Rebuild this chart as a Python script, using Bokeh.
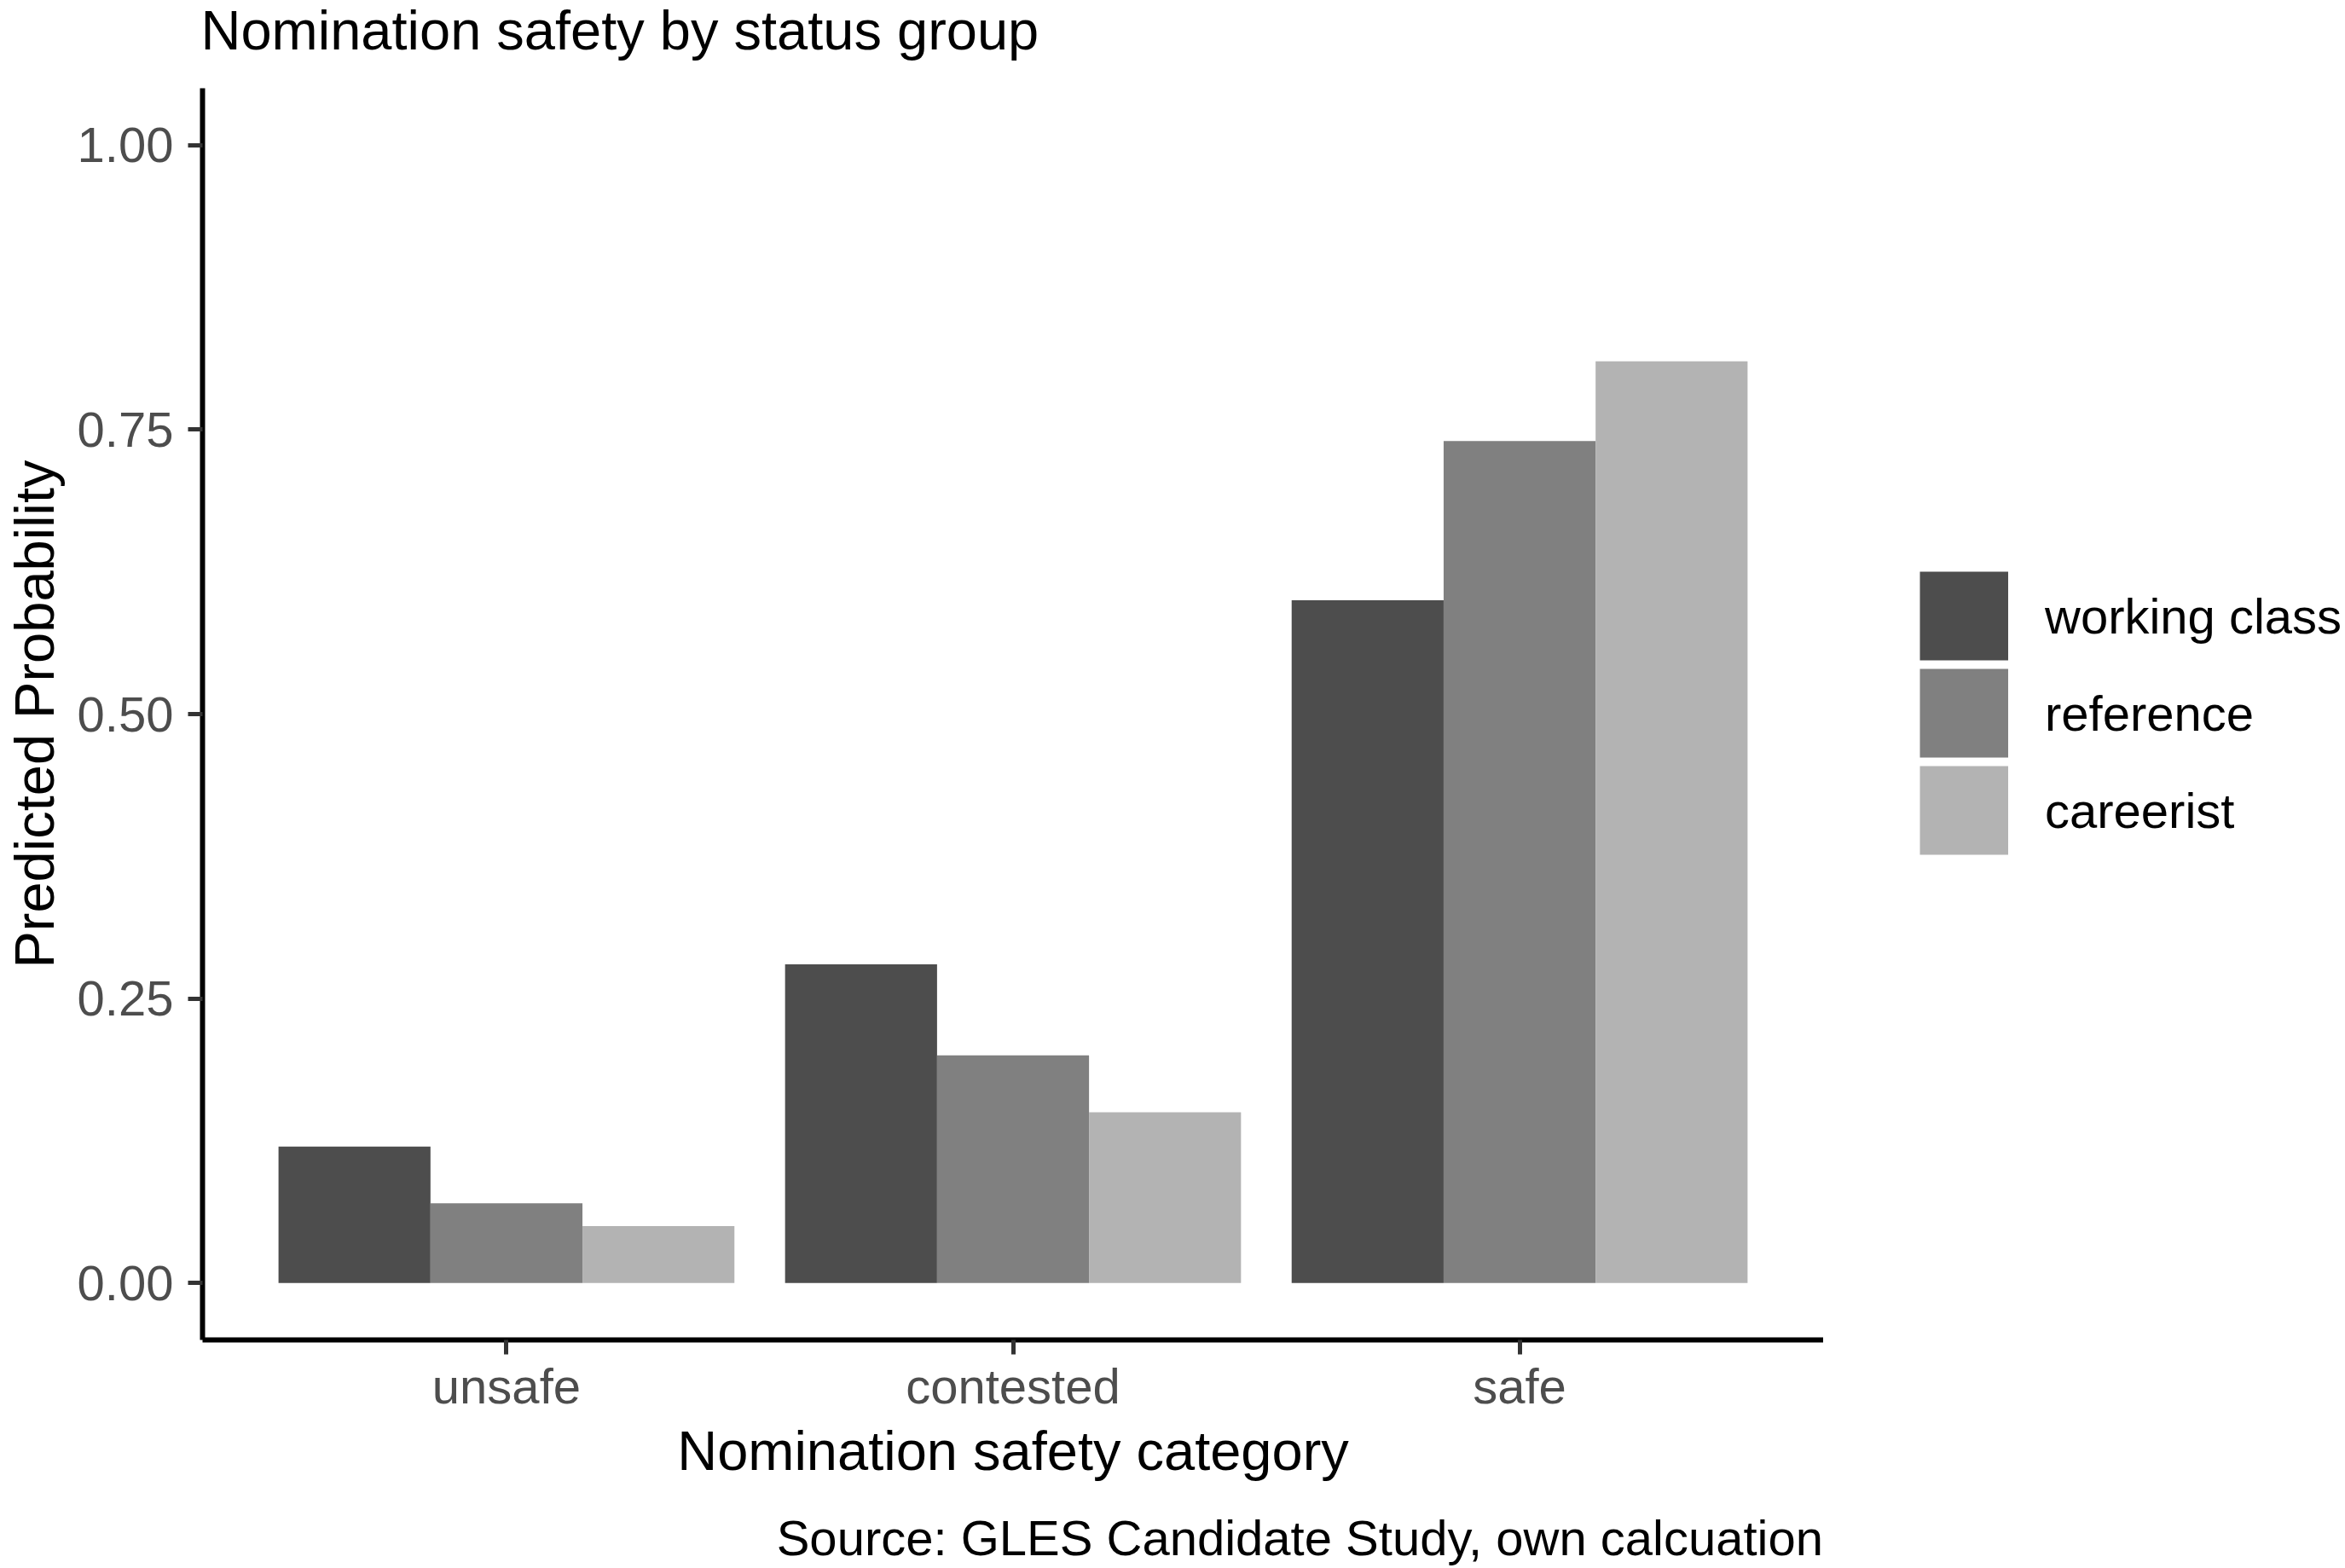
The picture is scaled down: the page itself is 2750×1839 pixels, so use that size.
from bokeh.plotting import figure
from bokeh.layouts import row, column
from bokeh.models import (FactorRange, Range1d, ColumnDataSource, FixedTicker,
                          Legend, LegendItem, Label, NumeralTickFormatter)
from bokeh.transform import dodge
from bokeh.embed import file_html
from bokeh.resources import INLINE

# ---- data ----
categories = ["unsafe", "contested", "safe"]
groups = ["working class", "reference", "careerist"]
working_class = [0.12, 0.28, 0.60]
reference = [0.07, 0.20, 0.74]
careerist = [0.05, 0.15, 0.81]
y_ticks = [0.0, 0.25, 0.5, 0.75, 1.0]
y_tick_labels = ["0.00", "0.25", "0.50", "0.75", "1.00"]
colors = ["#4D4D4D", "#808080", "#B3B3B3"]

title_text = "Nomination safety by status group"
caption_text = "Source: GLES Candidate Study, own calcuation"

FONT = "Liberation Sans"
W, H = 2750, 1839
TOP_H, CAP_H = 103, 89
MAIN_W = 2138
MID_H = H - TOP_H - CAP_H


def blank(width, height):
    f = figure(width=width, height=height, min_border=0, x_axis_location=None,
               y_axis_location=None, x_range=Range1d(0, 1), y_range=Range1d(0, 1),
               output_backend="svg", toolbar_location=None)
    f.outline_line_color = None
    f.grid.visible = False
    f.background_fill_color = "white"
    f.border_fill_color = "white"
    return f


# ---- title strip ----
p_title = blank(W, TOP_H)
p_title.add_layout(Label(x=235, y=68, x_units="screen", y_units="screen", text=title_text,
                         text_font=FONT, text_font_size="65px", text_color="black",
                         text_align="left", text_baseline="alphabetic"))

# ---- main panel ----
p = figure(
    x_range=FactorRange(factors=categories, range_padding=0.1, range_padding_units="absolute"),
    y_range=Range1d(-0.05, 1.05),
    width=MAIN_W, height=MID_H,
    min_border_left=237, min_border_right=0, min_border_top=0, min_border_bottom=MID_H - 1468,
    output_backend="svg", toolbar_location=None,
)
p.outline_line_color = None
p.xgrid.grid_line_color = None
p.ygrid.grid_line_color = None
p.background_fill_color = "white"
p.border_fill_color = "white"

offsets = [-0.3, 0.0, 0.3]
series = [working_class, reference, careerist]
for name, vals, col, off in zip(groups, series, colors, offsets):
    src = ColumnDataSource(dict(category=categories, value=vals))
    p.vbar(x=dodge("category", off, range=p.x_range), top="value", bottom=0,
           width=0.3, source=src, fill_color=col, line_color=None)

for ax in (p.xaxis[0], p.yaxis[0]):
    ax.axis_line_color = "black"
    ax.axis_line_width = 6
    ax.major_tick_line_color = "#333333"
    ax.major_tick_line_width = 5
    ax.major_tick_out = 17
    ax.major_tick_in = 0
    ax.minor_tick_line_color = None
    ax.major_label_text_font = FONT
    ax.major_label_text_font_size = "58px"
    ax.major_label_text_color = "#4D4D4D"
    ax.axis_label_text_font = FONT
    ax.axis_label_text_font_size = "65px"
    ax.axis_label_text_font_style = "normal"
    ax.axis_label_text_color = "black"

p.yaxis.ticker = FixedTicker(ticks=y_ticks)
p.yaxis.formatter = NumeralTickFormatter(format="0.00")
p.yaxis.major_label_overrides = {t: lab for t, lab in zip(y_ticks, y_tick_labels)}
p.yaxis.major_label_standoff = 17
p.yaxis.axis_label = "Predicted Probability"
p.yaxis.axis_label_standoff = 11

p.xaxis.major_label_standoff = 4
p.xaxis.axis_label = "Nomination safety category"
p.xaxis.axis_label_standoff = 4

# ---- legend strip (keys drawn as filled squares) ----
p_leg = blank(W - MAIN_W, MID_H)
items = []
for name, col in zip(groups, colors):
    src = ColumnDataSource(dict(x=[0.0], y=[0.0]))  # single anchor point: draws no segment
    r = p_leg.line(x="x", y="y", source=src, line_color=col, line_width=104, line_cap="butt")
    items.append(LegendItem(label=name, renderers=[r]))
legend = Legend(items=items, location=(113, 564), orientation="vertical",
                glyph_width=104, glyph_height=114, spacing=0, label_standoff=43,
                padding=0, margin=0, border_line_color=None, background_fill_alpha=0,
                label_text_font=FONT, label_text_font_size="58px", label_text_color="black")
p_leg.add_layout(legend)

# ---- caption strip ----
p_cap = blank(W, CAP_H)
p_cap.add_layout(Label(x=MAIN_W - 0.5, y=36, x_units="screen", y_units="screen", text=caption_text,
                       text_font=FONT, text_font_size="58px", text_color="black",
                       text_align="right", text_baseline="alphabetic"))

layout = column(p_title, row(p, p_leg, spacing=0), p_cap, spacing=0)
open("out.html", "w").write(file_html(layout, INLINE))
